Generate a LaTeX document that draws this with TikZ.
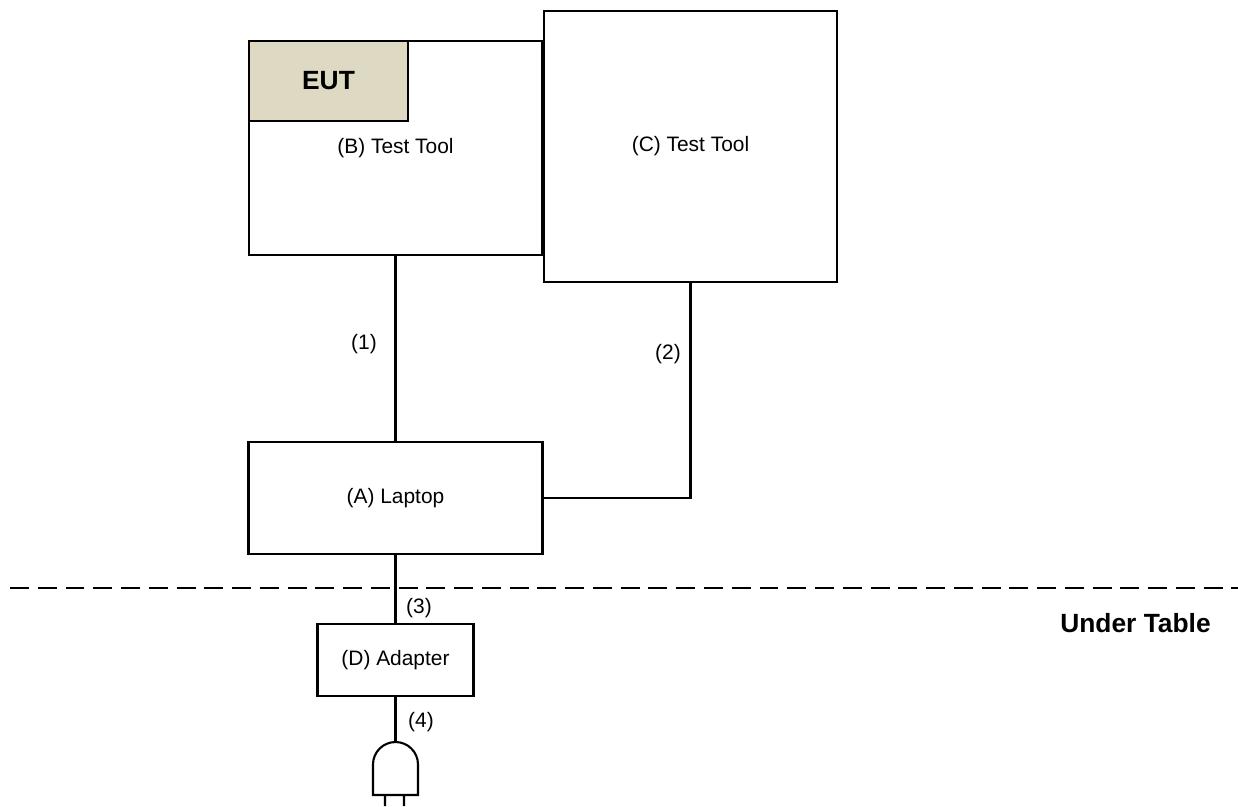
\documentclass[tikz,border=0pt]{standalone}
\usepackage{fontspec}
\setmainfont{Liberation Sans}
\definecolor{eut}{RGB}{221,217,195}

\begin{document}
\begin{tikzpicture}[x=0.02cm,y=-0.02cm,line width=1.2pt]
	\tikzset{box/.style={draw,fill=white,inner sep=0pt,font=\fontsize{11.9}{14}\selectfont},
	lbl/.style={font=\fontsize{11.9}{14}\selectfont},
	big/.style={font=\fontsize{15}{18}\selectfont\bfseries}}
	\useasboundingbox (0,0) rectangle (1238,806);
	\path
	(395.5,148) node[box,minimum width=5.86cm,minimum height=4.28cm](B){(B) Test Tool}
	(328.5,81) node[box,big,fill=eut,minimum width=3.18cm,minimum height=1.6cm](EUT){EUT}
	(690.5,146.5) node[box,minimum width=5.86cm,minimum height=5.42cm](C){(C) Test Tool}
	(395.5,498) node[box,minimum width=5.88cm,minimum height=2.24cm](A){(A) Laptop}
	(395.5,660) node[box,minimum width=3.12cm,minimum height=1.44cm](D){(D) Adapter}
	(364,344) node[lbl](n1){(1)}
	(668,354) node[lbl](n2){(2)}
	(419,608) node[lbl](n3){(3)}
	(421,722) node[lbl](n4){(4)}
	(1135.5,623) node[big](ut){Under Table}
	;
	\coordinate (P) at (395.5,742);
	\draw
	(B.south)--(A.north)
	(A.east)-|(C.south)
	(A.south)--(D.north)
	(D.south)--(P)
	;
	% table edge
	\draw[dash pattern=on 10.8pt off 5pt] (10,588)--(1238,588);
	% plug
	\draw (373,795)--(373,764.5) arc[start angle=180,end angle=360,radius=22.5]--(418,795)--cycle
	(385,795)--(385,806) (404,795)--(404,806);
\end{tikzpicture}
\end{document}
